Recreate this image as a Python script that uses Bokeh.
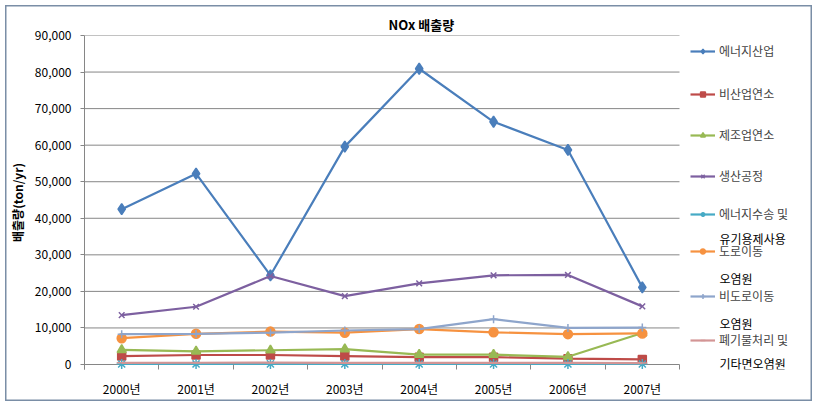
from bokeh.plotting import figure
from bokeh.embed import file_html
from bokeh.resources import INLINE
from bokeh.models import (Range1d, FixedTicker, NumeralTickFormatter,
                          Legend, LegendItem, Label, ColumnDataSource)

categories = ["2000년", "2001년", "2002년", "2003년", "2004년", "2005년", "2006년", "2007년"]

energy_industry = [42500, 52200, 24400, 59600, 80900, 66400, 58700, 21100]
non_industrial = [2300, 2600, 2600, 2300, 2000, 2000, 1600, 1400]
manufacturing = [4000, 3600, 3900, 4200, 2700, 2700, 2100, 8600]
production = [13500, 15800, 24200, 18700, 22200, 24400, 24500, 15900]
energy_transport = [150, 160, 170, 160, 150, 150, 140, 140]
road_mobile = [7200, 8400, 9000, 8700, 9700, 8800, 8300, 8500]
nonroad_mobile = [8300, 8400, 8700, 9300, 9700, 12400, 10000, 10100]
waste_other = [450, 480, 500, 470, 480, 460, 420, 400]

series_names = ["에너지산업", "비산업연소", "제조업연소", "생산공정", "에너지수송 및",
                "도로이동", "비도로이동", "폐기물처리 및"]
second_lines = ["유기용제사용", "오염원", "오염원", "기타면오염원"]
y_ticks = [0, 10000, 20000, 30000, 40000, 50000, 60000, 70000, 80000, 90000]

FONT = "Noto Sans CJK KR"
GRAY = "#868686"

n = len(categories)
xs = [i + 0.5 for i in range(n)]

frame_left, frame_right, frame_top, frame_bottom = 84, 812, 35, 369
plot_right = 679  # right edge of the category area
fw = frame_right - frame_left
fh = frame_bottom - frame_top
x_end = n * fw / (plot_right - frame_left)
y_start = -max(y_ticks) * (frame_bottom - 364) / (364 - frame_top)

p = figure(frame_width=fw, frame_height=fh,
           min_border_left=frame_left, min_border_right=817 - frame_right,
           min_border_top=frame_top, min_border_bottom=406 - frame_bottom,
           x_range=Range1d(0, x_end), y_range=Range1d(y_start, max(y_ticks)),
           output_backend="svg", toolbar_location=None, tools="")
p.outline_line_color = None
p.background_fill_alpha = 0
p.border_fill_alpha = 0
p.grid.visible = False
p.styles = {"background-color": "white",
            "box-shadow": "inset 0 0 0 5px white, inset 0 0 0 6.5px #7A8EA6"}

# title
p.title.text = "NOx 배출량"
p.title.align = "left"
p.title.offset = 304
p.title.standoff = 4
p.title.text_font = FONT
p.title.text_font_size = "13px"
p.title.text_font_style = "bold"
p.title.text_color = "black"

# horizontal gridlines over the category area only
p.segment(x0=0, x1=n, y0=y_ticks, y1=y_ticks, line_color=GRAY, line_width=1)

# y axis
p.yaxis.ticker = FixedTicker(ticks=y_ticks)
p.yaxis.formatter = NumeralTickFormatter(format="0,0")
p.yaxis.axis_line_color = GRAY
p.yaxis.major_tick_line_color = GRAY
p.yaxis.major_tick_out = 4
p.yaxis.major_tick_in = 0
p.yaxis.minor_tick_line_color = None
p.yaxis.major_label_text_font = FONT
p.yaxis.major_label_text_font_size = "12px"
p.yaxis.major_label_text_color = "black"
p.yaxis.major_label_standoff = 9
p.yaxis.axis_label = "배출량(ton/yr)"
p.yaxis.axis_label_text_font = FONT
p.yaxis.axis_label_text_font_size = "12px"
p.yaxis.axis_label_text_font_style = "bold"
p.yaxis.axis_label_text_color = "black"
p.yaxis.axis_label_standoff = 6

# x axis (line drawn by the zero gridline)
p.xaxis.ticker = FixedTicker(ticks=xs, minor_ticks=list(range(n + 1)))
p.xaxis.major_label_overrides = {x: c for x, c in zip(xs, categories)}
p.xaxis.axis_line_color = None
p.xaxis.major_tick_line_color = None
p.xaxis.major_tick_out = 0
p.xaxis.major_tick_in = 0
p.xaxis.minor_tick_line_color = GRAY
p.xaxis.minor_tick_out = 0
p.xaxis.minor_tick_in = 5
p.xaxis.major_label_text_font = FONT
p.xaxis.major_label_text_font_size = "12px"
p.xaxis.major_label_text_color = "black"
p.xaxis.major_label_standoff = 10

styles = [
    (energy_industry, "#4A7EBB", "diamond", 11),
    (non_industrial, "#BE4B48", "square", 8),
    (manufacturing, "#98B954", "triangle", 9),
    (production, "#7D60A0", "x", 8),
    (energy_transport, "#46AAC5", "asterisk", 10),
    (road_mobile, "#F69240", "circle", 9),
    (nonroad_mobile, "#8EA5CB", "cross", 8),
    (waste_other, "#D39595", "dash", 10),
]

items = []
for name, (vals, color, marker, size) in zip(series_names, styles):
    src = ColumnDataSource(dict(x=xs, y=vals))
    r1 = p.line("x", "y", source=src, line_color=color, line_width=2.2)
    r2 = p.scatter("x", "y", source=src, marker=marker, size=size,
                   fill_color=color, line_color=color, line_width=1.5)
    items.append(LegendItem(label=name, renderers=[r1, r2]))

legend_y = [51, 94, 135, 176, 214, 251, 296, 340]
for item, yc in zip(items, legend_y):
    lg = Legend(items=[item], location=(690 - frame_left, frame_bottom - yc - 8),
                orientation="vertical", padding=0, margin=0, spacing=0,
                glyph_width=25, glyph_height=12, label_height=12, label_standoff=4,
                label_text_font=FONT, label_text_font_size="12px",
                border_line_alpha=0, background_fill_alpha=0)
    p.add_layout(lg)

for txt, yc in zip(second_lines, [238, 278, 323, 363]):
    p.add_layout(Label(x=719 - frame_left, y=frame_bottom - yc, x_units="screen", y_units="screen",
                       text=txt, text_font=FONT, text_font_size="12px",
                       text_baseline="middle", text_align="left", text_color="black"))

open("out.html", "w").write(file_html(p, INLINE))
